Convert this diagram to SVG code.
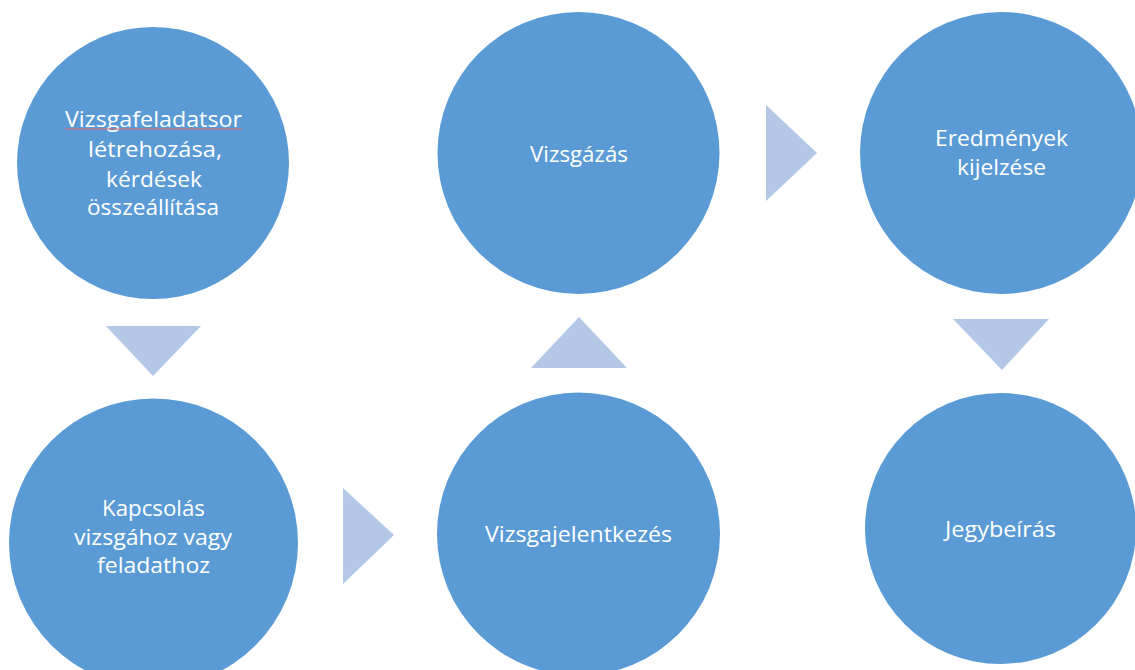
<svg xmlns="http://www.w3.org/2000/svg" width="1135" height="670" viewBox="0 0 1135 670">
<style>
.node circle{fill:#5B9BD5}
.node text{font-family:"Open Sans","Liberation Sans",sans-serif;font-size:22px;fill:#FFFFFF;text-anchor:middle}
.arrow{fill:#B4C7E7}
</style>
<rect width="1135" height="670" fill="#FFFFFF"/>
<g id="connectors">
<polygon class="arrow" points="106,326 201,326 153,376"/>
<polygon class="arrow" points="343,488 394,535 343,584"/>
<polygon class="arrow" points="579,317 627,368 531,368"/>
<polygon class="arrow" points="766,105 817,153 766,201"/>
<polygon class="arrow" points="953,319 1049,319 1002,370"/>
</g>
<g id="node1" class="node">
<circle cx="153" cy="163" r="136"/>
<text x="153.5" y="126.5" textLength="177" lengthAdjust="spacingAndGlyphs">Vizsgafeladatsor</text>
<path d="M65,129 L242,129" stroke="#E07070" stroke-width="1.2" fill="none"/>
<text x="155" y="156.5" textLength="134" lengthAdjust="spacingAndGlyphs">létrehozása,</text>
<text x="154" y="186.5" textLength="96" lengthAdjust="spacingAndGlyphs">kérdések</text>
<text x="153" y="215" textLength="132" lengthAdjust="spacingAndGlyphs">összeállítása</text>
</g>
<g id="node2" class="node">
<circle cx="153.5" cy="543" r="144.5"/>
<text x="153.5" y="516" textLength="103" lengthAdjust="spacingAndGlyphs">Kapcsolás</text>
<text x="153" y="545" textLength="158" lengthAdjust="spacingAndGlyphs">vizsgához vagy</text>
<text x="153.5" y="573" textLength="113" lengthAdjust="spacingAndGlyphs">feladathoz</text>
</g>
<g id="node3" class="node">
<circle cx="578.5" cy="153" r="141"/>
<text x="579" y="162" textLength="98" lengthAdjust="spacingAndGlyphs">Vizsgázás</text>
</g>
<g id="node4" class="node">
<circle cx="578.5" cy="534" r="141.5"/>
<text x="578.5" y="542" textLength="187" lengthAdjust="spacingAndGlyphs">Vizsgajelentkezés</text>
</g>
<g id="node5" class="node">
<circle cx="1001" cy="153" r="141"/>
<text x="1001.5" y="146" textLength="133" lengthAdjust="spacingAndGlyphs">Eredmények</text>
<text x="1001.5" y="175" textLength="89" lengthAdjust="spacingAndGlyphs">kijelzése</text>
</g>
<g id="node6" class="node">
<circle cx="1000.5" cy="528.5" r="135.5"/>
<text x="1000.5" y="537" textLength="111" lengthAdjust="spacingAndGlyphs">Jegybeírás</text>
</g>
</svg>
